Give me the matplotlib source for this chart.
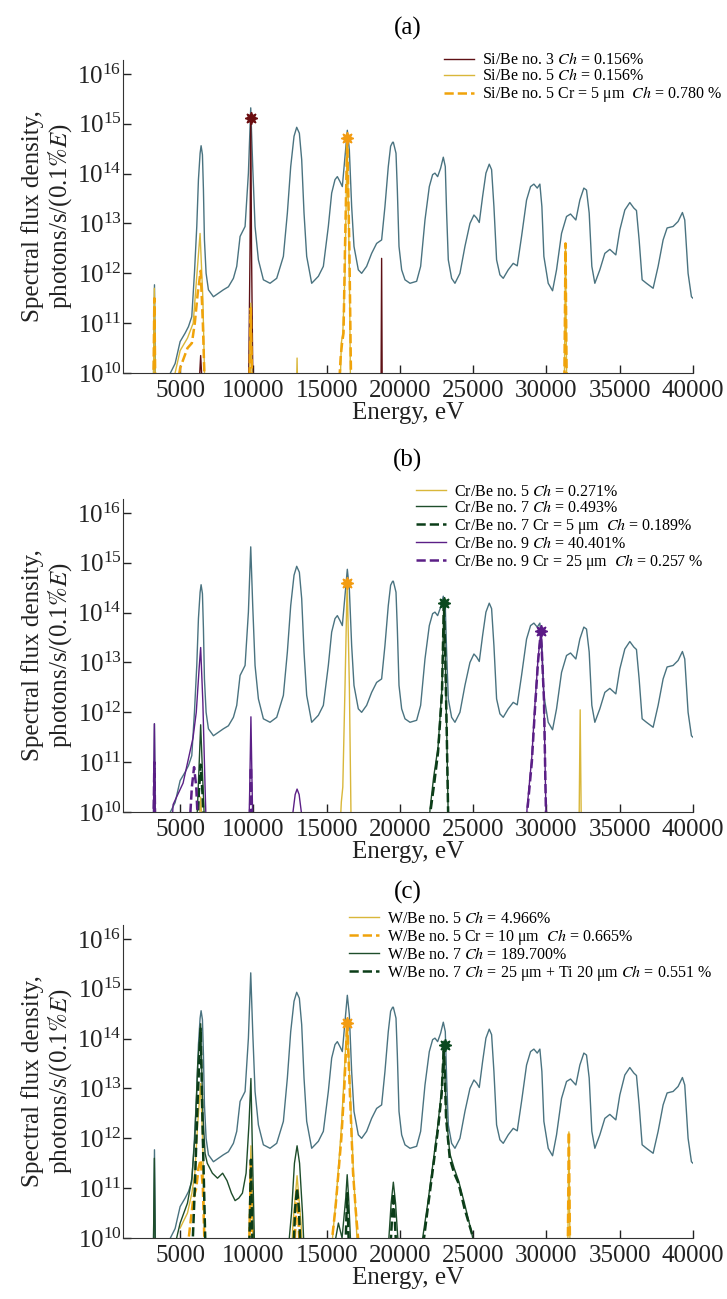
import numpy as np
import matplotlib
matplotlib.use("Agg")
import matplotlib.pyplot as plt

plt.rcParams['font.family'] = ['Liberation Serif', 'DejaVu Serif']
plt.rcParams['mathtext.fontset'] = 'stix'

# reference spectrum (same in all panels): energy, eV and log10 of flux
E_ref = [3150, 3248, 3340, 4316, 4657, 4998, 5339, 5566, 5794, 5975, 6135, 6248, 6362, 6430, 6521,
         6589, 6658, 6771, 6930, 7271, 7612, 7953, 8294, 8635, 8862, 9090, 9431, 9658, 9817, 9953,
         10112, 10340, 10681, 11135, 11590, 12045, 12317, 12545, 12772, 12954, 13136, 13295, 13454,
         13636, 13977, 14432, 14773, 15113, 15341, 15569, 15728, 15909, 16068, 16250, 16409, 16546,
         16705, 16864, 17159, 17386, 17727, 18068, 18409, 18750, 18977, 19204, 19364, 19500, 19549,
         19731, 19822, 19936, 20117, 20345, 20686, 21140, 21413, 21709, 22004, 22231, 22390, 22572,
         22777, 22959, 23095, 23186, 23300, 23527, 23754, 24095, 24436, 24777, 25050, 25232, 25414,
         25641, 25868, 26095, 26255, 26414, 26596, 26823, 27050, 27391, 27732, 28005, 28300, 28641,
         28914, 29142, 29370, 29550, 29687, 29823, 30119, 30415, 30687, 31028, 31369, 31642, 32005,
         32278, 32551, 32733, 32915, 33096, 33301, 33642, 33983, 34324, 34733, 35006, 35347, 35688,
         35961, 36142, 36324, 36529, 36824, 37279, 37620, 37960, 38233, 38642, 38983, 39278, 39437,
         39665, 39893, 40000]
lg_ref = [9.0, 11.77, 9.0, 9.99, 10.19, 10.63, 10.80, 10.93, 11.13, 12.00, 12.94, 13.88, 14.41, 14.56,
          14.38, 13.68, 12.67, 12.00, 11.67, 11.53, 11.60, 11.67, 11.73, 11.90, 12.14, 12.74, 12.94,
          14.01, 15.32, 14.14, 12.94, 12.27, 11.87, 11.80, 11.90, 12.34, 13.21, 14.14, 14.75, 14.93,
          14.81, 14.28, 13.21, 12.34, 11.80, 11.94, 12.14, 12.94, 13.61, 13.88, 13.94, 13.84, 13.74,
          14.34, 14.87, 14.48, 13.34, 12.54, 12.07, 12.00, 12.14, 12.40, 12.60, 12.67, 13.34, 14.14,
          14.55, 14.63, 14.63, 14.41, 13.68, 12.54, 12.07, 11.87, 11.80, 11.84, 12.14, 13.07, 13.74,
          13.98, 14.01, 13.94, 14.11, 14.33, 14.14, 13.21, 12.27, 11.90, 11.80, 12.00, 12.54, 13.00,
          13.17, 13.11, 13.02, 13.54, 14.01, 14.19, 14.08, 13.34, 12.27, 11.97, 11.90, 12.07, 12.20,
          12.15, 12.74, 13.47, 13.74, 13.79, 13.71, 13.79, 13.34, 12.34, 11.80, 11.65, 12.07, 12.80,
          13.14, 13.19, 13.07, 13.47, 13.71, 13.67, 13.21, 12.14, 11.80, 12.07, 12.40, 12.48, 12.37,
          12.87, 13.27, 13.42, 13.31, 13.26, 12.67, 11.87, 11.80, 11.70, 12.14, 12.67, 12.91, 12.94,
          13.04, 13.22, 13.07, 12.00, 11.53, 11.50]

# (a) Si/Be
E_si3 = [6250, 6400, 6550, 9650, 9770, 9820, 9870, 9990, 18700, 18750, 18800]
lg_si3 = [9.5, 10.35, 9.5, 9, 12.5, 15.15, 12.5, 9, 9, 12.3, 9]
E_si5 = [3150, 3240, 3330, 4500, 5000, 5500, 5890, 6150, 6360, 6550, 6700, 9680, 9820, 9960,
         12900, 12980, 13060, 15900, 16000, 16100, 16250, 16400, 16550, 16650, 31200, 31300, 31400]
lg_si5 = [9, 11.7, 9, 9.8, 10.45, 10.7, 11.0, 12.0, 12.8, 11.5, 9.5, 9, 11.4, 9,
          9, 10.3, 9, 9.5, 10.6, 10.8, 12.0, 14.78, 12.0, 9, 9, 12.6, 9]
E_si5cr = [3150, 3240, 3330, 4700, 5000, 5500, 5800, 6000, 6200, 6400, 6550, 6700, 9680, 9820,
           9960, 15800, 15950, 16050, 16150, 16250, 16400, 16550, 16700, 31200, 31300, 31400]
lg_si5cr = [9, 11.5, 9, 9.5, 10.1, 10.5, 10.6, 11.0, 11.6, 12.05, 11.0, 9.5, 9, 11.3,
            9, 9.5, 10.3, 10.6, 10.8, 12.5, 14.72, 12.5, 9, 9, 12.6, 9]

# (b) Cr/Be
E_cr5 = [6250, 6400, 6550, 15800, 16000, 16100, 16250, 16400, 16550, 16700, 32200, 32300, 32400]
lg_cr5 = [9.5, 10.3, 9.5, 9, 10.2, 10.5, 12.5, 14.65, 12.5, 9, 9, 12.05, 9]
E_cr7 = [6100, 6250, 6400, 6550, 6700, 21950, 22050, 22300, 22600, 22870, 23000, 23100, 23200,
         23300, 23400]
lg_cr7 = [9.5, 10.6, 11.75, 10.6, 9.5, 9.5, 10.05, 10.7, 11.3, 12.5, 14.2, 13.0, 11.5, 9.8, 9.5]
E_cr7cr = [6150, 6280, 6400, 6520, 6650, 22000, 22100, 22350, 22600, 22870, 23000, 23100, 23200,
           23300, 23400]
lg_cr7cr = [9.5, 10.4, 10.95, 10.4, 9.5, 9.5, 10.05, 10.6, 11.2, 12.4, 14.2, 13.0, 11.5, 9.8, 9.5]
E_cr9 = [3150, 3240, 3330, 4400, 4520, 5200, 5880, 6100, 6300, 6400, 6550, 6700, 6800,
         9650, 9750, 9830, 9910, 10010, 12600, 12700, 12850, 12980, 13120, 13270, 13350,
         28600, 28670, 29000, 29200, 29420, 29620, 29830, 29960, 30050]
lg_cr9 = [9, 11.77, 9, 9.5, 10.15, 10.58, 11.49, 12.0, 12.9, 13.3, 12.2, 10.5, 9.5,
          9, 10.5, 11.91, 10.5, 9, 9.5, 10.0, 10.35, 10.46, 10.35, 10.0, 9.5,
          9.5, 10.05, 11.1, 12.1, 13.06, 13.64, 12.25, 10.05, 9.5]
E_cr9cr = [3150, 3240, 3330, 5600, 5800, 5950, 6100, 6250, 9740, 9830, 9920,
           28600, 28700, 29000, 29200, 29420, 29620, 29830, 29960, 30050]
lg_cr9cr = [9, 11.0, 9, 9.5, 10.5, 10.9, 10.5, 9.5, 9.5, 10.9, 9.5,
            9.5, 10.05, 11.0, 12.0, 13.0, 13.64, 12.25, 10.05, 9.5]

# (c) W/Be
E_w5 = [5000, 5500, 5800, 6000, 6200, 6400, 6550, 6700, 9650, 9740, 9830, 9920, 10040,
        12500, 12700, 12980, 13250, 13450, 15400, 15700, 16000, 16200, 16400, 16600, 16800, 17100,
        31430, 31530, 31630]
lg_w5 = [10.2, 10.5, 10.9, 11.3, 12.3, 13.1, 11.8, 9.5, 9, 10.6, 11.85, 10.6, 9,
         9, 10.3, 11.25, 10.3, 9, 10.0, 11.0, 12.2, 13.3, 14.4, 13.0, 11.5, 9.8,
         9, 12.13, 9]
E_w5cr = [5400, 5700, 5900, 6100, 6250, 6400, 6550, 6700, 9700, 9830, 9960, 12750, 12980, 13200,
          15300, 15600, 15800, 16000, 16200, 16400, 16600, 16800, 17000, 17200, 31430, 31530, 31630]
lg_w5cr = [9.5, 10.3, 10.8, 11.0, 11.4, 11.57, 11.0, 9.5, 9.5, 11.5, 9.5, 9.5, 11.0, 9.5,
           9.8, 10.6, 11.3, 12.0, 13.0, 14.32, 12.8, 11.3, 10.5, 9.8, 9, 12.13, 9]
E_w7 = [3150, 3240, 3330, 4600, 5000, 5500, 5800, 6000, 6200, 6400, 6550, 6700, 6850, 7200,
        7550, 7900, 8200, 8500, 8750, 9000, 9250, 9500, 9700, 9830, 9950, 10100,
        12300, 12600, 12800, 12980, 13150, 13350, 13500, 15500, 15800, 16050, 16300, 16400, 16500,
        16650, 19200, 19400, 19550, 19700, 19900, 21500, 21900, 22300, 22600, 22850, 23000, 23150,
        23400, 23700, 24000, 24400, 24900, 25100]
lg_w7 = [9, 11.6, 9, 9.8, 10.3, 10.7, 11.2, 12.0, 13.5, 14.3, 12.5, 11.7, 11.5, 11.3,
         11.2, 11.3, 11.15, 10.9, 10.75, 10.8, 10.9, 11.3, 12.3, 13.2, 11.5, 9.5,
         9.5, 10.5, 11.5, 11.85, 11.5, 10.5, 9.5, 9.8, 10.3, 10.0, 10.8, 11.27, 10.8,
         9.8, 9.8, 10.7, 11.12, 10.7, 9.8, 9.9, 10.7, 11.6, 12.3, 13.0, 13.95, 12.5,
         11.7, 11.4, 11.15, 10.7, 10.1, 9.8]
E_w7cr = [5800, 6000, 6200, 6400, 6550, 6750, 9700, 9830, 9960, 12700, 12850, 12980, 13100, 13250,
          16250, 16400, 16550, 19350, 19550, 19750, 21600, 21900, 22300, 22600, 22850, 23000,
          23150, 23400, 23700, 24000, 24400, 24900, 25100]
lg_w7cr = [9.5, 11.0, 12.8, 14.2, 12.0, 9.5, 9.5, 11.57, 9.5, 9.5, 10.6, 11.0, 10.6, 9.5,
           9.5, 10.9, 9.5, 9.8, 10.9, 9.8, 9.9, 10.6, 11.5, 12.2, 12.9, 13.88,
           12.4, 11.6, 11.3, 11.1, 10.6, 10.1, 9.8]

# marked peaks: (energy, log10 flux)
mk_a = [(9820, 15.12, '#6b0d10'), (16400, 14.72, '#f39c12')]
mk_b = [(16400, 14.59, '#f39c12'), (23000, 14.2, '#0b4a1f'), (29620, 13.64, '#5b1a86')]
mk_c = [(16400, 14.32, '#f39c12'), (23050, 13.88, '#0b4a1f')]

c_ref = '#4a7380'
c_mar = '#5e1015'
c_gold = '#d9b73a'
c_or = '#f0a30a'
c_grn = '#1e4d2b'
c_dgrn = '#0b3d18'
c_pur = '#5b1f86'

W, H = 727, 1299

panels = [
    ('(a)', 373, 28, ((436 - 123) / 570, 1.05), mk_a, [
        (E_si3, lg_si3, c_mar, '-', 1.0, 'Si/Be no. 3 $Ch$ = 0.156%'),
        (E_si5, lg_si5, c_gold, '-', 1.0, 'Si/Be no. 5 $Ch$ = 0.156%'),
        (E_si5cr, lg_si5cr, c_or, '--', 1.8, 'Si/Be no. 5 Cr = 5 μm  $Ch$ = 0.780 %'),
    ]),
    ('(b)', 812, 460, ((408 - 123) / 570, 1.075), mk_b, [
        (E_cr5, lg_cr5, c_gold, '-', 1.0, 'Cr/Be no. 5 $Ch$ = 0.271%'),
        (E_cr7, lg_cr7, c_grn, '-', 1.0, 'Cr/Be no. 7 $Ch$ = 0.493%'),
        (E_cr7cr, lg_cr7cr, c_dgrn, '--', 1.8, 'Cr/Be no. 7 Cr = 5 μm  $Ch$ = 0.189%'),
        (E_cr9, lg_cr9, c_pur, '-', 1.0, 'Cr/Be no. 9 $Ch$ = 40.401%'),
        (E_cr9cr, lg_cr9cr, c_pur, '--', 1.8, 'Cr/Be no. 9 Cr = 25 μm  $Ch$ = 0.257 %'),
    ]),
    ('(c)', 1238, 892, ((341 - 123) / 570, 1.07), mk_c, [
        (E_w5, lg_w5, c_gold, '-', 1.0, 'W/Be no. 5 $Ch$ = 4.966%'),
        (E_w5cr, lg_w5cr, c_or, '--', 1.8, 'W/Be no. 5 Cr = 10 μm  $Ch$ = 0.665%'),
        (E_w7, lg_w7, c_grn, '-', 1.0, 'W/Be no. 7 $Ch$ = 189.700%'),
        (E_w7cr, lg_w7cr, c_dgrn, '--', 1.8,
         'W/Be no. 7 $Ch$ = 25 μm + Ti 20 μm $Ch$ = 0.551 %'),
    ]),
]

fig = plt.figure(figsize=(W / 100, H / 100), dpi=100)

for title, bottom, ty, leg_xy, marks, curves in panels:
    ax = fig.add_axes([123 / W, 1 - bottom / H, 570 / W, 313 / H])
    ax.plot(E_ref, 10 ** np.array(lg_ref), color=c_ref, lw=1.0)
    for E, lg, col, ls, lw, lab in curves:
        ax.plot(E, 10 ** np.array(lg), color=col, ls=ls, lw=lw, label=lab)
    for e, lg, col in marks:
        ax.plot(e, 10 ** lg, marker=(8, 1, 0), ms=9, color=col, ls='none')
    ax.set_yscale('log')
    ax.set_xlim(1100, 40000)
    ax.set_ylim(1e10, 10 ** 16.28)
    ax.set_xticks([5000, 10000, 15000, 20000, 25000, 30000, 35000, 40000])
    ax.set_yticks([10.0 ** k for k in range(10, 17)])
    ax.minorticks_off()
    ax.tick_params(direction='in', length=6, width=1, labelsize=18, colors='#222222')
    ax.tick_params(axis='y', pad=1)
    ax.tick_params(axis='x', pad=5)
    for s in ['top', 'right']:
        ax.spines[s].set_visible(False)
    for s in ['left', 'bottom']:
        ax.spines[s].set_color('#333333')
    ax.set_xlabel('Energy, eV', fontsize=18, labelpad=0, color='#222222')
    ax.set_ylabel('Spectral flux density,\nphotons/s/(0.1$\\%E$)', fontsize=18,
                  color='#222222', labelpad=2, linespacing=1.1)
    ax.legend(loc='upper left', bbox_to_anchor=leg_xy, frameon=False, fontsize=11.5,
              borderpad=0, labelspacing=0.0, handlelength=1.9, handletextpad=0.45)
    fig.text(408 / W, 1 - ty / H, title, ha='center', va='center', fontsize=18)

fig.savefig('out.png', dpi=100)
